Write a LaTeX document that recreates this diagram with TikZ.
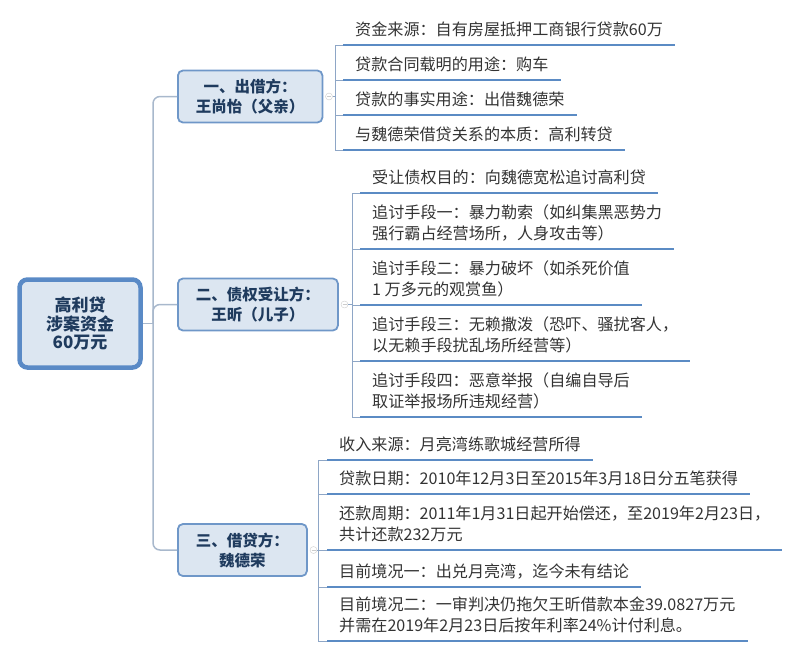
\documentclass[tikz,border=0pt]{standalone}
\usepackage{fontspec}
\newfontfamily\cjk{Noto Sans CJK SC}
\usepackage{tikz}
\usetikzlibrary{positioning}
\usepackage{xcolor}
\definecolor{boxfill}{HTML}{DCE6F1}
\definecolor{boxline}{HTML}{6F97C8}
\definecolor{rootline}{HTML}{5A8AC6}
\definecolor{boxtext}{HTML}{1F3B5E}
\definecolor{ulinecol}{HTML}{5B8BC4}
\definecolor{barcol}{HTML}{8EA6C6}
\definecolor{trunkcol}{HTML}{A8B8CC}
\definecolor{itemtext}{HTML}{333333}

\begin{document}
\begin{tikzpicture}[x=1pt, y=-1pt,
	rootbox/.style={draw=rootline, line width=4.5pt, fill=boxfill, rounded corners=8pt, minimum width=121pt, minimum height=88pt, align=center, text=boxtext, font=\cjk\bfseries\fontsize{17}{18.5}\selectfont},
	mainbox/.style={draw=boxline, line width=1.8pt, fill=boxfill, rounded corners=5pt, anchor=west, inner xsep=18pt, minimum height=52pt, align=center, text=boxtext, font=\cjk\bfseries\fontsize{15.5}{20}\selectfont},
	item/.style={anchor=south west, inner xsep=12pt, inner ysep=7.5pt, align=left, text=itemtext, font=\cjk\fontsize{16.1}{21}\selectfont},
	uline/.style={draw=ulinecol, line width=2.8pt},
	bar/.style={draw=barcol, line width=1pt},
	trunk/.style={draw=trunkcol, line width=1.5pt, rounded corners=7pt},
	fold/.style={circle, draw=gray!40, fill=white, inner sep=0pt, minimum size=7pt,
		path picture={\draw[gray!40] ([xshift=-2pt]path picture bounding box.center) -- ([xshift=2pt]path picture bounding box.center);}}]
	\useasboundingbox (0,0) rectangle (800,657);
	
	% center topic
	\node[rootbox] (root) at (80,323.5) {高利贷\\涉案资金\\60万元};
	
	% main branches
	\node[mainbox] (lender) at (177,96.5) {一、出借方：\\王尚怡（父亲）};
	\node[mainbox] (assignee) at (177,304.5) {二、债权受让方：\\王昕（儿子）};
	\node[mainbox] (borrower) at (177,550) {三、借贷方：\\魏德荣};
	
	\coordinate (hub) at (153,323.5);
	\draw[trunk] (lender.west) -| (hub) |- (borrower.west);
	\draw[trunk] (assignee.west) -| (hub);
	\draw[trunk] (root.east) -- (hub);
	
	\node[fold, right=2pt of lender] (lenderfold) {};
	\node[fold, right=2pt of assignee] (assigneefold) {};
	\node[fold, right=2pt of borrower] (borrowerfold) {};
	
	% lender
	\node[item] (src) at (343,45) {资金来源：自有房屋抵押工商银行贷款60万};
	\node[item] (contract) at (343,80) {贷款合同载明的用途：购车};
	\node[item] (actual) at (343,115) {贷款的事实用途：出借魏德荣};
	\node[item] (essence) at (343,150) {与魏德荣借贷关系的本质：高利转贷};
	
	% assignee
	\node[item] (goal) at (360,193) {受让债权目的：向魏德宽松追讨高利贷};
	\node[item] (extort) at (360,249) {追讨手段一：暴力勒索（如纠集黑恶势力\\强行霸占经营场所，人身攻击等）};
	\node[item] (damage) at (360,305) {追讨手段二：暴力破坏（如杀死价值\\1 万多元的观赏鱼）};
	\node[item] (harass) at (360,361) {追讨手段三：无赖撒泼（恐吓、骚扰客人，\\以无赖手段扰乱场所经营等）};
	\node[item] (report) at (360,417) {追讨手段四：恶意举报（自编自导后\\取证举报场所违规经营）};
	
	% borrower
	\node[item] (income) at (327,460) {收入来源：月亮湾练歌城经营所得};
	\node[item] (loandate) at (327,494) {贷款日期：2010年12月3日至2015年3月18日分五笔获得};
	\node[item] (repay) at (327,550) {还款周期：2011年1月31日起开始偿还，至2019年2月23日，\\共计还款232万元};
	\node[item] (outcome) at (327,587) {目前境况一：出兑月亮湾，迄今未有结论};
	\node[item] (verdict) at (327,641) {目前境况二：一审判决仍拖欠王昕借款本金39.0827万元\\并需在2019年2月23日后按年利率24\%计付利息。};
	
	% brackets
	\coordinate (lenderbar) at (335,0);
	\coordinate (assigneebar) at (352,0);
	\coordinate (borrowerbar) at (318,0);
	\draw[bar] (src.south west -| lenderbar) -- (essence.south west -| lenderbar);
	\draw[bar] (goal.south west -| assigneebar) -- (report.south west -| assigneebar);
	\draw[bar] (income.south west -| borrowerbar) -- (verdict.south west -| borrowerbar);
	\draw[bar] (lenderfold) -- (lenderfold -| lenderbar);
	\draw[bar] (assigneefold) -- (assigneefold -| assigneebar);
	\draw[bar] (borrowerfold) -- (borrowerfold -| borrowerbar);
	\foreach \n in {src,contract,actual,essence}
		\draw[bar] (\n.south west -| lenderbar) -- (\n.south west);
	\foreach \n in {goal,extort,damage,harass,report}
		\draw[bar] (\n.south west -| assigneebar) -- (\n.south west);
	\foreach \n in {income,loandate,repay,outcome,verdict}
		\draw[bar] (\n.south west -| borrowerbar) -- (\n.south west);
	
	% underlines
	\foreach \n in {src,contract,actual,essence,goal,extort,damage,harass,report,income,loandate,repay,outcome,verdict}
		\draw[uline] (\n.south west) -- (\n.south east);
\end{tikzpicture}
\end{document}
